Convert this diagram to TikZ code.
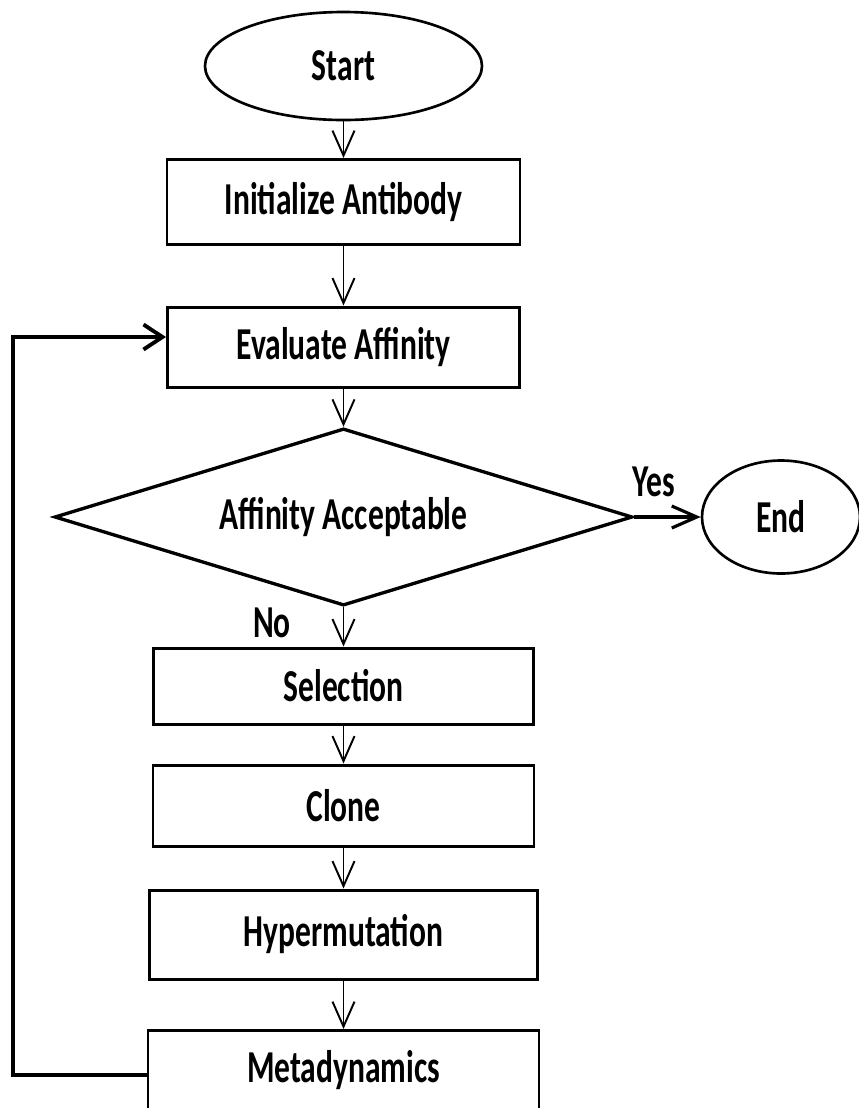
\documentclass[tikz,border=0pt]{standalone}
\usepackage{fontspec}
\newfontfamily\chartfont[FakeStretch=0.69]{Carlito}
\usetikzlibrary{shapes.geometric,arrows.meta}
\tikzset{
 chart text/.style={font=\chartfont\bfseries\fontsize{26}{30}\selectfont},
 procbox/.style={draw, rectangle, line width=1.7pt, inner sep=0pt, chart text},
 termnode/.style={draw, ellipse, line width=1.5pt, inner sep=0pt, chart text},
 decnode/.style={draw, diamond, line width=1.9pt, inner sep=0pt, chart text},
 flow/.style={line width=1.1pt, -{Straight Barb[length=0.5cm,width=0.44cm]}},
 back flow/.style={line width=2.2pt, -{Straight Barb[length=0.38cm,width=0.5cm]}}
}

\begin{document}
\begin{tikzpicture}
 \useasboundingbox[fill=white] (0,0) rectangle (17.18,-22.16);
%
 \node[termnode, minimum width=5.54cm, minimum height=2.16cm] (start) at (6.87,-1.32) {Start};
 \node[procbox, minimum width=7.06cm, minimum height=1.7cm] (init) at (6.87,-4.04) {Initialize Antibody};
 \node[procbox, minimum width=7.04cm, minimum height=1.6cm] (eval) at (6.87,-6.94) {Evaluate Affinity};
 \node[decnode, aspect=1.8, minimum width=11.56cm] (accept) at (6.87,-10.34) {Affinity Acceptable};
 \node[termnode, minimum width=3.16cm, minimum height=2.26cm] (finish) at (15.62,-10.34) {End};
 \node[procbox, minimum width=7.6cm, minimum height=1.52cm] (select) at (6.87,-13.72) {Selection};
 \node[procbox, minimum width=7.62cm, minimum height=1.62cm] (clone) at (6.87,-16.11) {Clone};
 \node[procbox, minimum width=7.76cm, minimum height=1.78cm] (hyper) at (6.87,-18.69) {Hypermutation};
 \node[procbox, minimum width=7.82cm, minimum height=1.58cm] (meta) at (6.87,-21.4) {Metadynamics};
%
 \node[chart text] (yes) at (13.08,-9.64) {Yes};
 \node[chart text] (no) at (5.44,-12.46) {No};
%
 \draw[flow] (start) -- (init);
 \draw[flow] (init) -- (eval);
 \draw[flow] (eval) -- (accept);
 \draw[flow, line width=1.8pt] (accept) -- (finish);
 \draw[flow] (accept) -- (select);
 \draw[flow] (select) -- (clone);
 \draw[flow] (clone) -- (hyper);
 \draw[flow] (hyper) -- (meta);
%
 \coordinate (loopcorner) at (0.26,-6.74);
 \draw[back flow] ([yshift=-0.1cm]meta.west) -| (loopcorner) -- ([yshift=0.2cm]eval.west);
\end{tikzpicture}
\end{document}
